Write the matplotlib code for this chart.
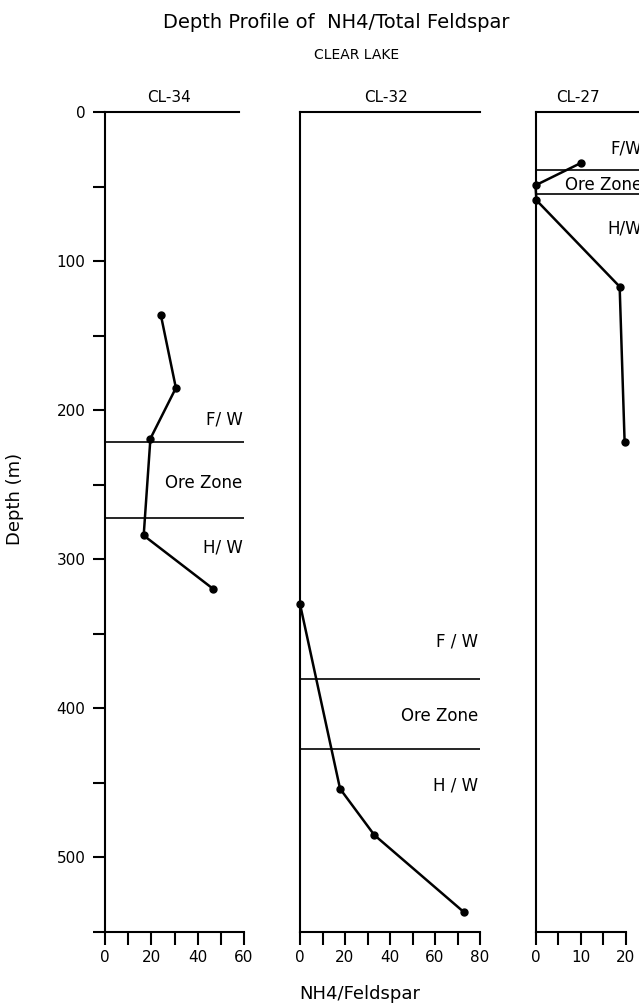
import matplotlib
matplotlib.use('Agg')
import matplotlib.pyplot as plt
import matplotlib.transforms as mtransforms

plt.rcParams['font.family'] = ['DejaVu Sans']

# Depth profiles of NH4/feldspar ratio, Clear Lake drill holes
wells = ['CL-34', 'CL-32', 'CL-27']

cl34_ratio = [24.1, 30.6, 19.6, 16.7, 46.8]
cl34_depth = [136, 185, 219, 284, 320]

cl32_ratio = [0, 17.8, 33, 73]
cl32_depth = [330, 454, 485, 537]

cl27_ratio = [10.1, 0, 0.2, 18.7, 19.8]
cl27_depth = [34, 49, 59, 117, 221]

# footwall / hangingwall contacts of the ore zone (m)
fw_depth = [221, 380, 39]
hw_depth = [272, 427, 55]

x_max = [60, 80, 20]
x_label_step = [20, 20, 10]
x_minor_step = [10, 10, 5]
fw_text = ['F/ W', 'F / W', 'F/W']
hw_text = ['H/ W', 'H / W', 'H/W']

ratios = [cl34_ratio, cl32_ratio, cl27_ratio]
depths = [cl34_depth, cl32_depth, cl27_depth]

W, H = 639, 1006
fig = plt.figure(figsize=(W / 100, H / 100), dpi=100)

top_px, bot_px = 112.3, 931.8
# left/right pixel edges of each panel
panels_px = [(105, 244), (300, 480), (535.5, 643.5)]
xlims = [(0, 60), (0, 80), (0, 24)]
title_frac = [0.46, 0.48, 0.39]
gap_above = [15, 25, 15]
gap_below = [20, 25, 23]

lw_axis = 1.5
for i, well in enumerate(wells):
    l, r = panels_px[i]
    ax = fig.add_axes([l / W, 1 - bot_px / H, (r - l) / W, (bot_px - top_px) / H])
    ax.patch.set_visible(False)

    ax.spines['right'].set_visible(False)
    for s in ['left', 'top', 'bottom']:
        ax.spines[s].set_linewidth(lw_axis)

    ax.set_xticks(range(0, x_max[i] + 1, x_label_step[i]))
    ax.set_xticks(range(0, x_max[i] + 1, x_minor_step[i]), minor=True)
    ax.tick_params(axis='x', which='both', direction='out', length=9, width=1.5,
                   labelsize=11, pad=4)
    if i == 0:
        ax.set_yticks(range(0, 501, 100))
        ax.set_yticks(range(50, 551, 100), minor=True)
        ax.tick_params(axis='y', which='both', direction='out', length=9, width=1.5,
                       labelsize=11, pad=5)
    else:
        ax.set_yticks([])

    ax.set_xlim(*xlims[i])
    ax.set_ylim(550, 0)
    ax.spines['bottom'].set_bounds(0, x_max[i])
    if i == 0:
        ax.spines['top'].set_bounds(0, 58)

    # ore zone contacts
    ax.hlines([fw_depth[i], hw_depth[i]], 0, xlims[i][1], colors='black', linewidth=1.2)

    ax.plot(ratios[i], depths[i], color='black', linewidth=1.8, marker='o',
            markersize=5, clip_on=False)

    trans = mtransforms.blended_transform_factory(ax.transAxes, ax.transData)
    ax.text(0.99, fw_depth[i] - gap_above[i], fw_text[i], transform=trans,
            ha='right', va='center', fontsize=12)
    ax.text(0.99, (fw_depth[i] + hw_depth[i]) / 2 + 2, 'Ore Zone', transform=trans,
            ha='right', va='center', fontsize=12)
    ax.text(0.99, hw_depth[i] + gap_below[i], hw_text[i], transform=trans,
            ha='right', va='center', fontsize=12)

    ax.text(title_frac[i], 1.0 + 15 / (bot_px - top_px), well, transform=ax.transAxes,
            ha='center', va='center', fontsize=11)

fig.text(163 / W, 1 - 22 / H, 'Depth Profile of  NH4/Total Feldspar', ha='left',
         va='center', fontsize=14)
fig.text(357 / W, 1 - 55 / H, 'CLEAR LAKE', ha='center', va='center', fontsize=10)
fig.text(15 / W, 1 - 499 / H, 'Depth (m)', rotation=90, ha='center', va='center',
         fontsize=13)
fig.text(360 / W, 1 - 994 / H, 'NH4/Feldspar', ha='center', va='center', fontsize=13)

fig.savefig('out.png', dpi=100)
plt.close(fig)
